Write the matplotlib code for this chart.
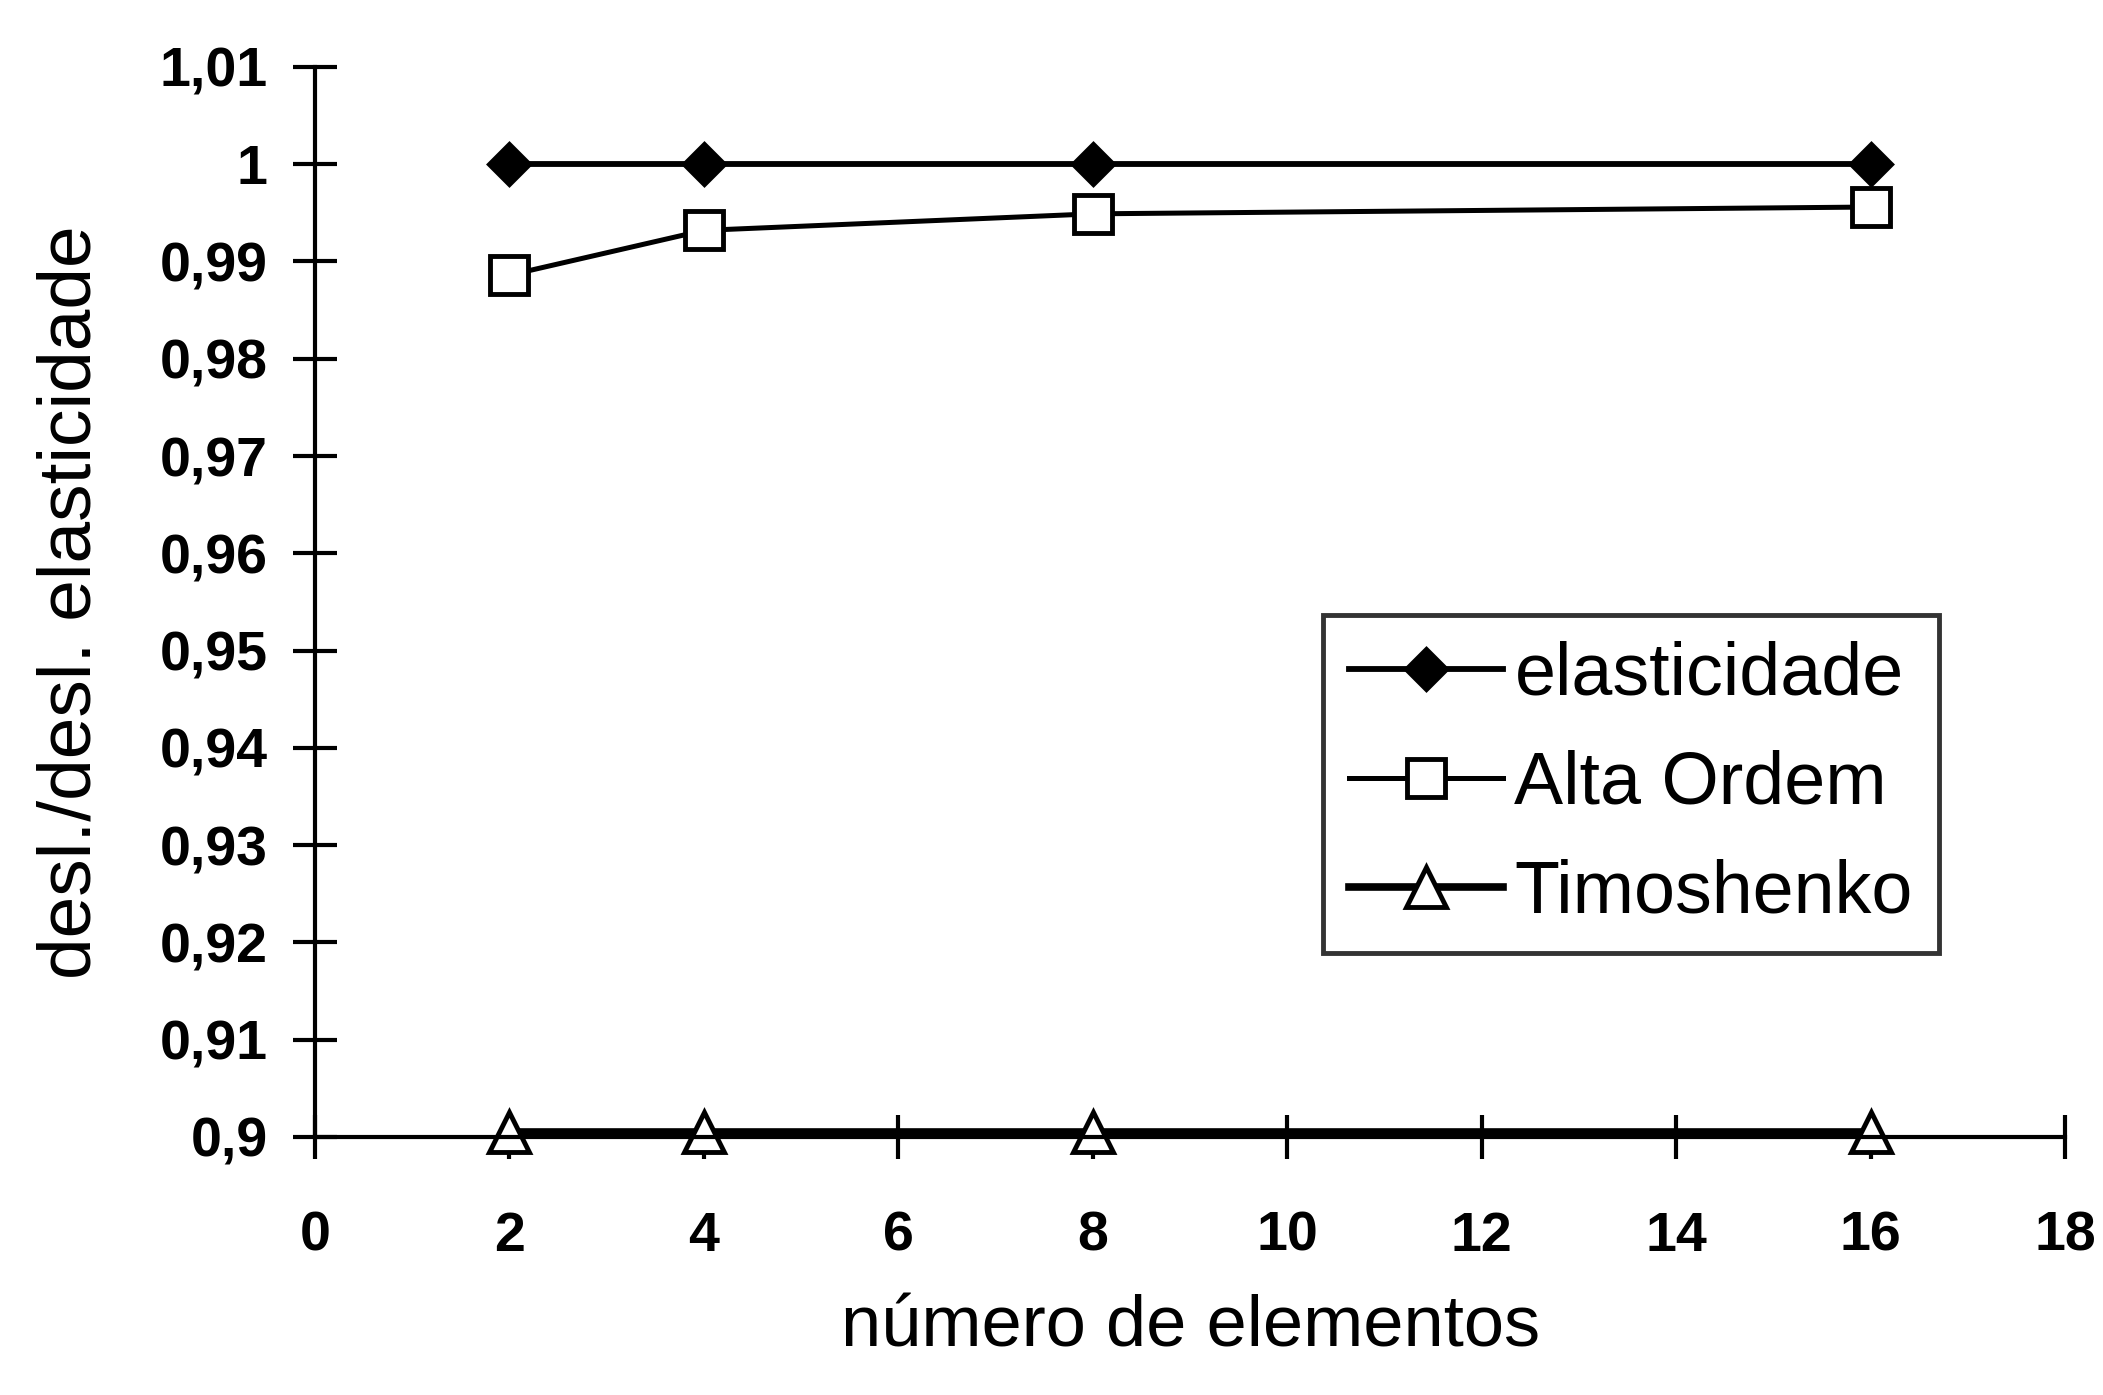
import matplotlib
matplotlib.use('Agg')
from matplotlib import pyplot as plt

plt.rcParams['font.family'] = ['Liberation Sans', 'DejaVu Sans']

# Series values
n_elementos = [2, 4, 8, 16]
elasticidade = [1.0, 1.0, 1.0, 1.0]
alta_ordem = [0.9886, 0.9932, 0.9949, 0.9956]
timoshenko = [0.9005, 0.9005, 0.9005, 0.9005]

x_ticks = [0, 2, 4, 6, 8, 10, 12, 14, 16, 18]
y_ticks = [0.90, 0.91, 0.92, 0.93, 0.94, 0.95, 0.96, 0.97, 0.98, 0.99, 1.00, 1.01]
y_tick_labels = ['0,9', '0,91', '0,92', '0,93', '0,94', '0,95', '0,96',
                 '0,97', '0,98', '0,99', '1', '1,01']

fig = plt.figure(figsize=(21.03, 13.95), dpi=100)
ax = fig.add_axes([0.1498, 0.185, 0.8322, 0.767])

ax.plot(n_elementos, elasticidade, color='black', lw=4.2, marker='D', ms=21,
        mfc='black', mec='black', mew=2.5, label='elasticidade', clip_on=False)
ax.plot(n_elementos, alta_ordem, color='black', lw=3.6, marker='s', ms=27,
        mfc='white', mec='black', mew=3.5, label='Alta Ordem', clip_on=False)
ax.plot(n_elementos, timoshenko, color='black', lw=5.5, marker='^', ms=29,
        mfc='white', mec='black', mew=3.5, label='Timoshenko', clip_on=False)

ax.set_xlim(0, 18)
ax.set_ylim(0.9, 1.01)
ax.set_xticks(x_ticks)
ax.set_xticklabels([str(v) for v in x_ticks])
ax.set_yticks(y_ticks)
ax.set_yticklabels(y_tick_labels)

for side in ['top', 'right']:
    ax.spines[side].set_visible(False)
for side in ['left', 'bottom']:
    ax.spines[side].set_linewidth(3)

ax.tick_params(axis='both', direction='inout', length=32, width=3,
               labelsize=40)
ax.tick_params(axis='x', pad=37)
ax.tick_params(axis='y', pad=18)
for lbl in ax.get_xticklabels() + ax.get_yticklabels():
    lbl.set_fontweight('bold')

ax.set_xlabel('número de elementos', fontsize=52, labelpad=23)
ax.set_ylabel('desl./desl. elasticidade', fontsize=54, labelpad=39)

leg = ax.legend(loc='upper left', bbox_to_anchor=(0.6291, 0.5591),
                bbox_transform=fig.transFigure, borderaxespad=0,
                fontsize=53, frameon=True, fancybox=False, shadow=False,
                handlelength=2.1, handletextpad=0.15, labelspacing=0.54,
                borderpad=0.35)
leg.get_frame().set_edgecolor('black')
leg.get_frame().set_linewidth(3.5)

fig.savefig('out.png', dpi=100)
